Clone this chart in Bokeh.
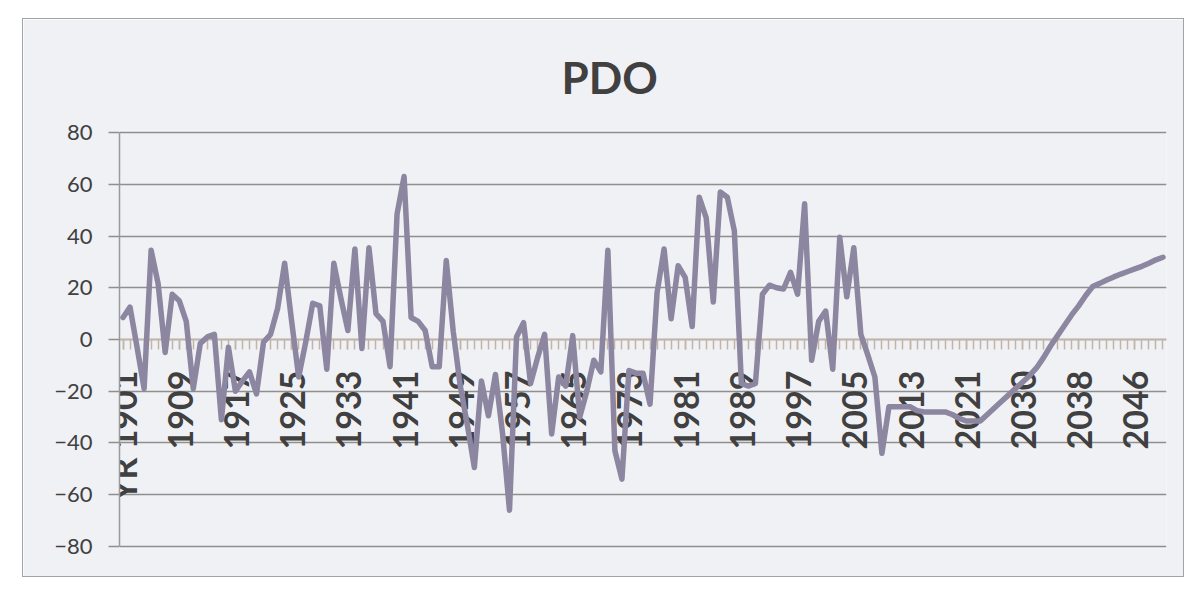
import math
from bokeh.plotting import figure
from bokeh.models import FixedTicker
from bokeh.embed import file_html
from bokeh.resources import INLINE

# ---- data ----
years = list(range(1901, 2022)) + list(range(2023, 2051))
pdo = [
    8.5, 12.5, -3, -19, 34.5, 21.5, -5, 17.5, 15, 7,
    -19, -1.5, 1, 2, -31, -3, -20, -16, -12.5, -21,
    -1, 2, 12, 29.5, 7, -14.5, -1, 14, 13, -11.5,
    29.5, 16, 3.5, 35, -3.5, 35.5, 10, 7, -10.5, 48.5,
    63, 8.5, 7, 3.5, -10.5, -10.5, 30.5, 3, -18, -33,
    -49.5, -16, -29.5, -13.5, -36, -66, 1, 6.5, -17, -7,
    2, -36.5, -14.5, -18, 1.5, -30, -20, -8, -12.5, 34.5,
    -43, -54, -12, -13, -13, -25, 18, 35, 8, 28.5,
    24, 5, 55, 47, 14.5, 57, 55, 42, -17, -18,
    -17, 17.5, 21, 20, 19.5, 26, 17.5, 52.5, -8, 7,
    11, -11.5, 39.5, 16.5, 35.5, 2, -6, -14.5, -44, -26,
    -26, -26, -26, -27.5, -28, -28, -28, -28, -29, -30.5,
    -31.5, -31.5, -31.5, -29, -26.5, -24, -21.5, -19, -16.5, -14,
    -11, -7, -2.5, 1.5, 5.5, 9.5, 13, 17, 20.5, 21.7,
    23, 24.2, 25.3, 26.3, 27.3, 28.3, 29.5, 30.8, 31.8,
]
x_tick_labels = ["YR 1901", "1909", "1917", "1925", "1933", "1941", "1949",
                 "1957", "1965", "1973", "1981", "1989", "1997", "2005",
                 "2013", "2021", "2030", "2038", "2046"]
y_ticks = [-80, -60, -40, -20, 0, 20, 40, 60, 80]

assert len(pdo) == len(years)

idx = list(range(len(years)))
label_idx = idx[::8][:len(x_tick_labels)]

BG = "#f0f1f5"
TEXT = "#404040"
GRID = "#8f8f8f"
TAN = "#c2b4a6"
LINE = "#8c86a0"

p = figure(width=1162, height=559,
           x_range=(-0.5, len(years) - 0.5), y_range=(-80.8, 80.8),
           output_backend="svg", toolbar_location=None,
           min_border_left=96, min_border_right=19,
           min_border_top=111, min_border_bottom=30,
           background_fill_color=BG, border_fill_color=BG,
           outline_line_color=None)
p.margin = (18, 0, 0, 22)
p.styles = {"border": "1px solid #a3a3a3"}

# title
p.title.text = "PDO"
p.title.text_font = "Lato"
p.title.text_font_size = "44px"
p.title.text_font_style = "bold"
p.title.text_color = TEXT
p.title.align = "left"
p.title.offset = 442
p.title.standoff = 56

# y axis
p.yaxis.ticker = FixedTicker(ticks=y_ticks)
p.yaxis.bounds = (y_ticks[0], y_ticks[-1])
p.yaxis.axis_line_color = "#9a9a9a"
p.yaxis.axis_line_width = 1.5
p.yaxis.major_tick_in = 0
p.yaxis.major_tick_out = 11
p.yaxis.major_tick_line_color = GRID
p.yaxis.major_tick_line_width = 1.5
p.yaxis.minor_tick_line_color = None
p.yaxis.major_label_standoff = 16
p.yaxis.major_label_text_font = "Lato"
p.yaxis.major_label_text_font_size = "22px"
p.yaxis.major_label_text_color = TEXT

p.ygrid.ticker = FixedTicker(ticks=y_ticks)
p.ygrid.grid_line_color = GRID
p.ygrid.grid_line_width = 1.5
p.xgrid.grid_line_color = None

# x axis, crossing at zero
xa = p.below[0]
xa.fixed_location = 0
xa.ticker = FixedTicker(ticks=label_idx, minor_ticks=idx)
xa.major_label_overrides = dict(zip(label_idx, x_tick_labels))
xa.major_label_orientation = math.pi / 2
xa.axis_line_color = TAN
xa.axis_line_width = 1.5
xa.major_tick_in = 0
xa.major_tick_out = 10
xa.minor_tick_in = 0
xa.minor_tick_out = 10
xa.major_tick_line_color = TAN
xa.minor_tick_line_color = TAN
xa.major_tick_line_width = 1.5
xa.minor_tick_line_width = 1.5
xa.major_label_standoff = 21
xa.major_label_text_font = "Lato"
xa.major_label_text_font_size = "34px"
xa.major_label_text_font_style = "bold"
xa.major_label_text_color = TEXT

r = p.line(x=idx, y=pdo, line_color=LINE, line_width=5.5,
           line_join="round", line_cap="round")
r.level = "annotation"

with open("out.html", "w") as f:
    f.write(file_html(p, INLINE))
